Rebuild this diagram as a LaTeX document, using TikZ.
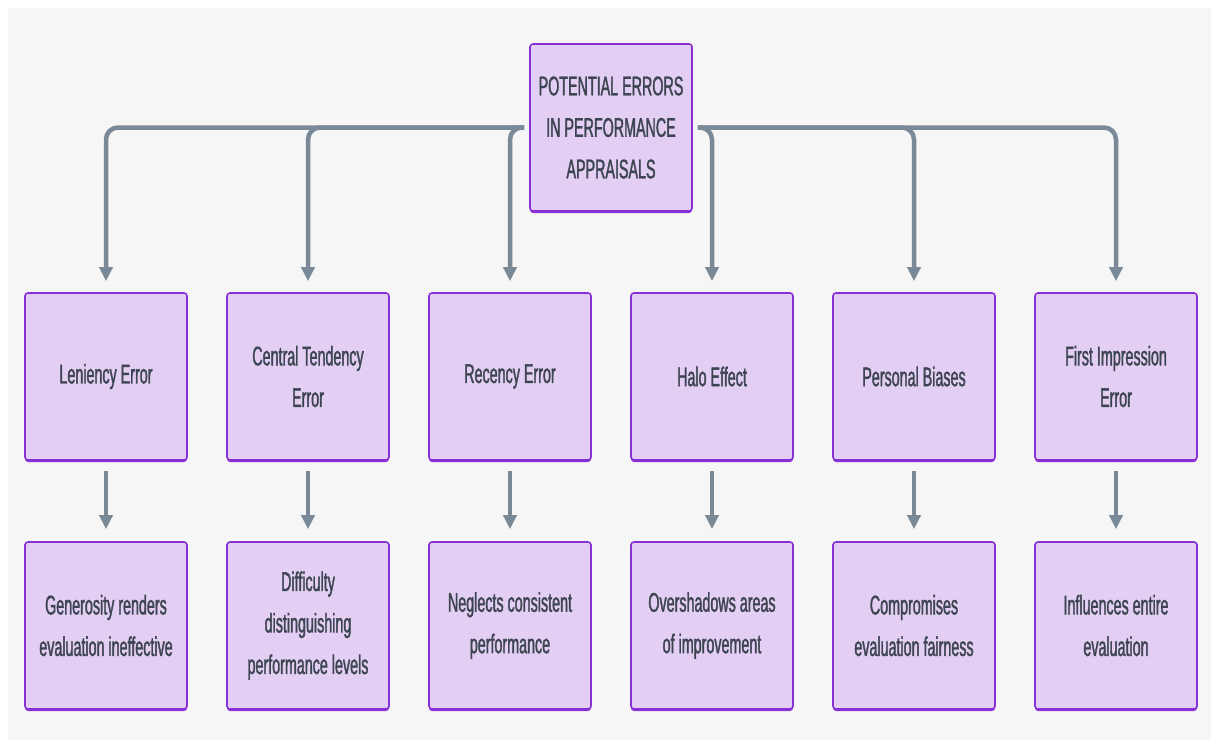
\documentclass[tikz,border=0pt]{standalone}
\usepackage{fontspec}
\setmainfont{Liberation Sans}[FakeStretch=0.53,FakeBold=1.3]
\usetikzlibrary{arrows.meta}
\definecolor{boxfill}{RGB}{227,207,243}
\definecolor{boxline}{RGB}{136,48,214}
\definecolor{linkgray}{RGB}{122,137,151}
\definecolor{textgray}{RGB}{62,69,82}
\definecolor{bggray}{RGB}{246,246,246}
\tikzset{errbox/.style = {shape = rectangle, draw = boxline, fill = boxfill, line width = 1.6pt, rounded corners = 3pt, minimum width = 162pt, minimum height = 167pt, inner sep = 0pt, align = center, text = textgray, font = \fontsize{27}{41.5}\selectfont, preaction = {fill = boxline, transform canvas = {yshift = -2pt}}}}
\tikzset{link/.style = {draw = linkgray, line width = 4.5pt, rounded corners = 12pt, -{Triangle[width = 13pt, length = 14pt]}}}

\begin{document}
\begin{tikzpicture}[x = 1pt, y = -1pt]
				\fill[white] (0, 0) rectangle (1211, 740);
				\fill[bggray] (8, 8) rectangle (1211, 740);
				\useasboundingbox (0, 0) rectangle (1211, 740);

				\node[errbox] (r) at (611, 127.5) {POTENTIAL ERRORS\\IN PERFORMANCE\\APPRAISALS};

				\node[errbox] (a1) at (106, 376.5) {Leniency Error};
				\node[errbox] (a2) at (308, 376.5) {Central Tendency\\Error};
				\node[errbox] (a3) at (510, 376.5) {Recency Error};
				\node[errbox] (a4) at (712, 376.5) {Halo Effect};
				\node[errbox] (a5) at (914, 376.5) {Personal Biases};
				\node[errbox] (a6) at (1116, 376.5) {First Impression\\Error};

				\node[errbox] (b1) at (106, 625.5) {Generosity renders\\evaluation ineffective};
				\node[errbox] (b2) at (308, 625.5) {Difficulty\\distinguishing\\performance levels};
				\node[errbox] (b3) at (510, 625.5) {Neglects consistent\\performance};
				\node[errbox] (b4) at (712, 625.5) {Overshadows areas\\of improvement};
				\node[errbox] (b5) at (914, 625.5) {Compromises\\evaluation fairness};
				\node[errbox] (b6) at (1116, 625.5) {Influences entire\\evaluation};

				\draw[link, shorten > = 11pt] ([xshift = -5pt]r.west) -| (a1);
				\draw[link, shorten > = 11pt] ([xshift = -5pt]r.west) -| (a2);
				\draw[link, shorten > = 11pt] ([xshift = -5pt]r.west) -| (a3);
				\draw[link, shorten > = 11pt] ([xshift = 5pt]r.east) -| (a4);
				\draw[link, shorten > = 11pt] ([xshift = 5pt]r.east) -| (a5);
				\draw[link, shorten > = 11pt] ([xshift = 5pt]r.east) -| (a6);

				\draw[link, shorten < = 10pt, shorten > = 12pt] (a1) -- (b1);
				\draw[link, shorten < = 10pt, shorten > = 12pt] (a2) -- (b2);
				\draw[link, shorten < = 10pt, shorten > = 12pt] (a3) -- (b3);
				\draw[link, shorten < = 10pt, shorten > = 12pt] (a4) -- (b4);
				\draw[link, shorten < = 10pt, shorten > = 12pt] (a5) -- (b5);
				\draw[link, shorten < = 10pt, shorten > = 12pt] (a6) -- (b6);
			\end{tikzpicture}
\end{document}
